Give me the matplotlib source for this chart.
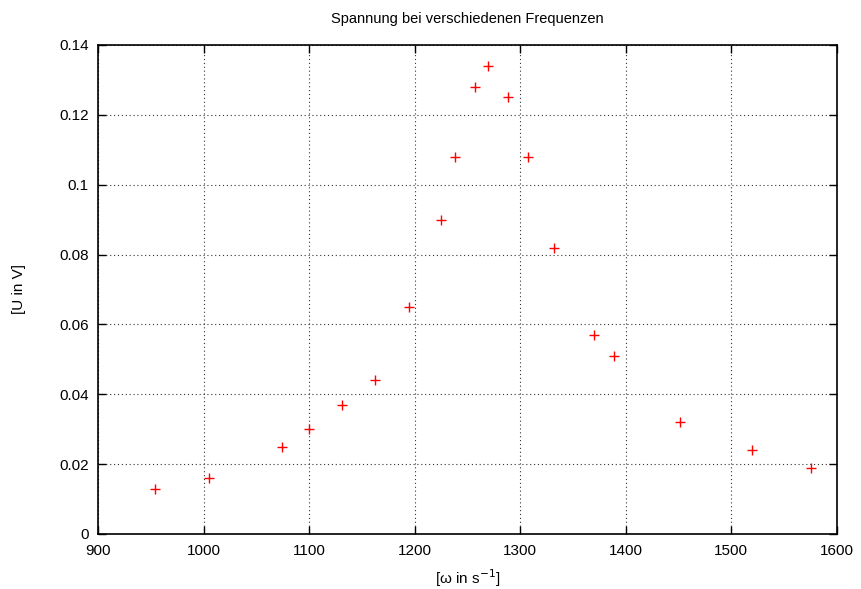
import matplotlib

matplotlib.use("Agg")
import matplotlib.pyplot as plt
from matplotlib.ticker import FuncFormatter, MultipleLocator

omega = [954, 1005, 1074, 1100, 1131, 1162, 1194, 1225, 1238, 1257,
         1269, 1288, 1307, 1332, 1370, 1389, 1451, 1520, 1576]
voltage = [0.013, 0.016, 0.025, 0.030, 0.037, 0.044, 0.065, 0.090, 0.108, 0.128,
           0.134, 0.125, 0.108, 0.082, 0.057, 0.051, 0.032, 0.024, 0.019]

plt.rcParams["font.family"] = ["Liberation Sans", "DejaVu Sans"]
plt.rcParams["font.size"] = 11

fig = plt.figure(figsize=(8.61, 5.89), dpi=100, facecolor="white")
ax = fig.add_axes([0.1144, 0.0934, 0.8574, 0.8302])

ax.plot(omega, voltage, linestyle="None", marker="+", color="red",
        markersize=6.5, markeredgewidth=1.0)

ax.set_xlim(900, 1600)
ax.set_ylim(0, 0.14)
ax.xaxis.set_major_locator(MultipleLocator(100))
ax.yaxis.set_major_locator(MultipleLocator(0.02))
ax.yaxis.set_major_formatter(FuncFormatter(lambda v, _: f"{v:g}"))

ax.grid(True, color="black", linestyle=(0, (1, 2.5)), linewidth=0.8, alpha=0.8)
ax.tick_params(direction="in", length=6, width=1.0, top=True, right=True,
               labelsize=11, pad=7)
for spine in ax.spines.values():
    spine.set_linewidth(1.2)

ax.set_title("Spannung bei verschiedenen Frequenzen", fontsize=10.5, pad=16)
ax.set_xlabel(r"[ω in s$^{-1}$]", fontsize=11, labelpad=7)
ax.set_ylabel("[U in V]", fontsize=11, labelpad=24)

fig.savefig("out.png", dpi=100)
